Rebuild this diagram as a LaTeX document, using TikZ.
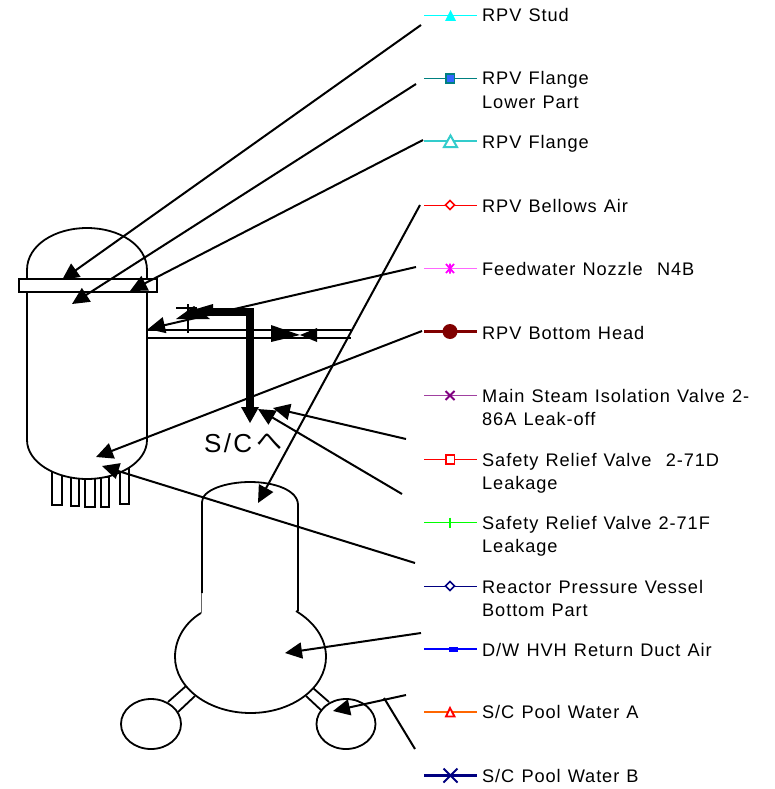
\documentclass[tikz,border=0pt]{standalone}
\usepackage{fontspec}
\usetikzlibrary{arrows.meta}
\setmainfont[LetterSpace=5,WordSpace=1.2]{Liberation Sans}
\newfontfamily\cjk{Noto Sans CJK JP}
\definecolor{cTeal}{HTML}{008080}
\definecolor{cFlangeFill}{HTML}{3366FF}
\definecolor{cFlange}{HTML}{33CCCC}
\definecolor{cCyan}{HTML}{00FFFF}
\definecolor{cFeed}{HTML}{FF66FF}
\definecolor{cMag}{HTML}{FF00FF}
\definecolor{cBottom}{HTML}{800000}
\definecolor{cMsiv}{HTML}{800080}
\definecolor{cNavy}{HTML}{000080}
\definecolor{cOrange}{HTML}{FF6600}
\definecolor{cRed}{HTML}{FF0000}
\definecolor{cLime}{HTML}{00FF00}
\definecolor{cBlue}{HTML}{0000FF}
\tikzset{
  x=1pt,y=-1pt,
  outline/.style={draw=black,line width=1.8pt,fill=white},
  wire/.style={draw=black,line width=1.8pt},
  leader/.style={draw=black,line width=2pt,-{Triangle[length=17pt,width=16pt]}},
  plainleader/.style={draw=black,line width=2pt},
  legtext/.style={anchor=base west,inner sep=0pt,font=\fontsize{18.2}{23.5}\selectfont,align=left},
  thinkey/.style={line width=1pt},
  thickkey/.style={line width=2.6pt},
  blob/.style={fill=black,draw=none},
}
\begin{document}
\begin{tikzpicture}
\useasboundingbox (0,0) rectangle (775,789);
\fill[white] (0,0) rectangle (775,789);
% RPV stubs
\foreach \a/\b/\t/\e in {52/62/470/505,71/79/475/506,85/95/478/507,101/109/477/507,120/129/468/504}
  \draw[wire,line width=1.5pt] (\a,\t) rectangle (\b,\e);
% RPV body
\path[outline] (27,279) -- (27,270) .. controls (27,245) and (55,228) .. (87,228)
   .. controls (119,228) and (147,245) .. (147,270) -- (147,440)
   .. controls (147,462) and (119,479) .. (87,479)
   .. controls (55,479) and (27,462) .. (27,440) -- cycle;
\path[outline] (19,279) rectangle (157,292);
% pipe
\draw[wire] (147,330) -- (351,330);
\draw[wire] (147,338) -- (351,338);
\draw[wire] (176,308) -- (197,308);
\draw[wire] (188,304) -- (188,333);
\fill[blob] (271,325) -- (300,335) -- (271,342) -- cycle;
\fill[blob] (317,328) -- (300,335) -- (317,342) -- cycle;
% discharge line
\draw[black,line width=8pt,line join=miter] (200,311.5) -- (250,311.5) -- (250,408);
\fill[blob] (241,407) -- (259,407) -- (250,423) -- cycle;
\fill[blob] (176,319) -- (194,306) -- (210,319) -- cycle;
\fill[blob] (186,312) -- (213,304) -- (213,316) -- cycle;
\node[anchor=base west,inner sep=0pt,font=\fontsize{26}{26}\selectfont\addfontfeature{LetterSpace=9}] (sc) at (204,452) {S/C\hspace{4pt}\raisebox{2pt}{\cjk へ}};
% containment
\draw[wire] (202,593) -- (202,502) .. controls (202,490) and (226,482) .. (250,482)
   .. controls (274,482) and (298,490) .. (298,505) -- (298,611);
\draw[black!60,line width=.6pt] (201.5,593) -- (201.5,613);
\draw[wire] (201,613) .. controls (186,622) and (175,638) .. (175,657)
   .. controls (175,688) and (209,713) .. (250.5,713)
   .. controls (292,713) and (326,688) .. (326,657)
   .. controls (326,638) and (314,622) .. (296,611);
\draw[wire] (151,724) ellipse [x radius=30,y radius=25];
\draw[wire] (346,724) ellipse [x radius=29.5,y radius=25];
\draw[wire] (168,702) -- (186,686);
\draw[wire] (178,712) -- (195,696);
\draw[wire] (313,688) -- (329,702);
\draw[wire] (306,696) -- (322,711);
% leader ends
\coordinate (s1) at (421,25);  \coordinate (t1) at (62,280);
\coordinate (s2) at (416,84);  \coordinate (t2) at (72,304);
\coordinate (s3) at (423,140); \coordinate (t3) at (130,291);
\coordinate (s4) at (420,205); \coordinate (t4) at (258,503);
\coordinate (s5) at (416,267); \coordinate (t5) at (148,329);
\coordinate (s6) at (422,331); \coordinate (t6) at (96,457);
\coordinate (s7) at (406,439); \coordinate (t7) at (273,408);
\coordinate (s8) at (402,494); \coordinate (t8) at (258,409);
\coordinate (s9) at (415,563); \coordinate (t9) at (102,466);
\coordinate (s10) at (421,633); \coordinate (t10) at (285,653);
\coordinate (s11) at (406,695); \coordinate (t11) at (333,711);
\coordinate (s12) at (415,749); \coordinate (t12) at (384,698);
\foreach \i in {1,...,11} \draw[leader] (s\i) -- (t\i);
\draw[plainleader] (s12) -- (t12);
% legend
\draw[cCyan,line width=.9pt] (424,15) -- (477,15);
\fill[cCyan] (445,21) -- (450.5,10) -- (456,21) -- cycle;
\node[legtext] (l1) at (482,22) {RPV Stud};
\draw[cTeal,line width=1pt] (424,78.5) -- (477,78.5);
\path[draw=cTeal,fill=cFlangeFill,line width=1.6pt] (446,74) rectangle (454.5,83);
\node[legtext] (l2) at (482,108.5) {RPV Flange\\Lower Part};
\draw[cFlange,thickkey] (424,141) -- (477,141);
\path[draw=cFlange,fill=white,line width=2pt] (444,147) -- (450.5,135.5) -- (457,147) -- cycle;
\node[legtext] (l3) at (482,148) {RPV Flange};
\draw[cRed,thinkey] (424,205) -- (477,205);
\path[draw=cRed,fill=white,line width=1.6pt] (445.5,205) -- (450,200.5) -- (454.5,205) -- (450,209.5) -- cycle;
\node[legtext] (l4) at (482,212) {RPV Bellows Air};
\draw[cFeed,line width=1.4pt] (424,268.5) -- (477,268.5);
\draw[cMag,line width=1.8pt] (446,264) -- (454,273) (454,264) -- (446,273) (450,263.5) -- (450,273.5);
\node[legtext] (l5) at (482,275) {Feedwater Nozzle\ \ N4B};
\draw[cBottom,thickkey] (424,331.5) -- (477,331.5);
\fill[cBottom] (450,331.5) circle (7.5);
\node[legtext] (l6) at (482,339) {RPV Bottom Head};
\draw[cMsiv!75,line width=1pt] (424,395.5) -- (477,395.5);
\draw[cMsiv,line width=2pt] (445.5,391) -- (454.5,400) (454.5,391) -- (445.5,400);
\node[legtext] (l7) at (482,425.5) {Main Steam Isolation Valve 2-\\86A Leak-off};
\draw[cRed,thinkey] (424,459.5) -- (477,459.5);
\path[draw=cRed,fill=white,line width=1.8pt] (446,455) rectangle (454.5,464);
\node[legtext] (l8) at (482,489.5) {Safety Relief Valve\ \ 2-71D\\Leakage};
\draw[cLime,line width=1pt] (424,522.5) -- (477,522.5);
\draw[cLime,line width=1.8pt] (445.5,522.5) -- (454.5,522.5) (450,517.5) -- (450,527.5);
\node[legtext] (l9) at (482,552.5) {Safety Relief Valve 2-71F\\Leakage};
\draw[cNavy,line width=.9pt] (424,586) -- (477,586);
\path[draw=cNavy,fill=white,line width=1.6pt] (445.5,586) -- (450,581.5) -- (454.5,586) -- (450,590.5) -- cycle;
\node[legtext] (l10) at (482,616.5) {Reactor Pressure Vessel\\Bottom Part};
\draw[cBlue,thickkey] (424,649) -- (477,649);
\fill[cBlue] (449,646.5) rectangle (458,651.5);
\node[legtext] (l11) at (482,656) {D/W HVH Return Duct Air};
\draw[cOrange,thickkey] (424,712) -- (477,712);
\path[draw=cRed,fill=white,line width=1.9pt] (446,716.5) -- (450,708) -- (454.5,716.5) -- cycle;
\node[legtext] (l12) at (482,718) {S/C Pool Water A};
\draw[cNavy,thickkey] (424,775.5) -- (477,775.5);
\draw[cNavy,line width=2pt] (443.5,768.5) -- (457.5,782.5) (457.5,768.5) -- (443.5,782.5);
\node[legtext] (l13) at (482,782) {S/C Pool Water B};
\end{tikzpicture}
\end{document}
